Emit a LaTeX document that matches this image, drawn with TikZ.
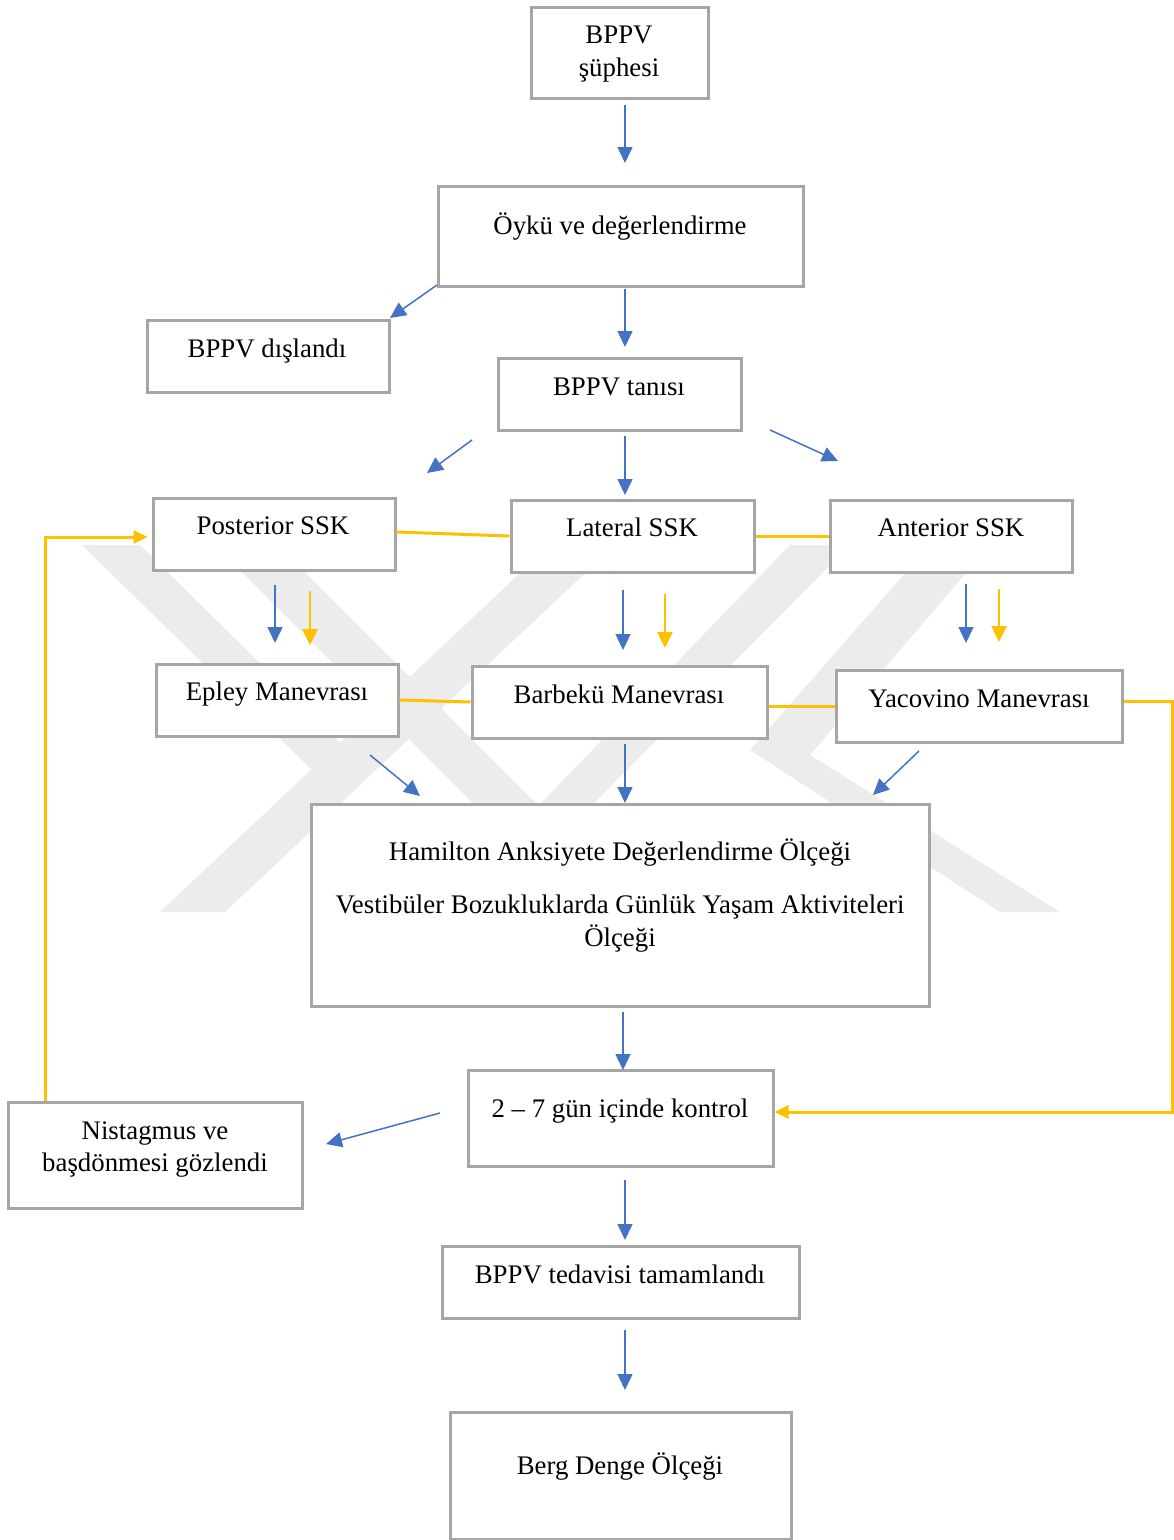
\documentclass[tikz,border=0pt]{standalone}
\usepackage{fontspec}
\setmainfont{Liberation Serif}
\usetikzlibrary{arrows.meta}
\definecolor{boxgray}{HTML}{A6A6A6}
\definecolor{ablue}{HTML}{4472C4}
\definecolor{ayellow}{HTML}{FFC000}
\definecolor{wm}{HTML}{ECECEC}
\begin{document}
\begin{tikzpicture}[x=1pt,y=-1pt,
  box/.style={draw=boxgray,line width=3pt,fill=white,inner sep=0pt},
  txt/.style={anchor=base,inner sep=0pt,font=\fontsize{26.8}{31}\selectfont},
  barr/.style={draw=ablue,line width=1.5pt,-{Triangle[length=16pt,width=15pt]}},
  yarr/.style={draw=ayellow,line width=2.5pt,-{Triangle[length=16pt,width=15pt]}},
  yline/.style={draw=ayellow,line width=3pt},
  wmark/.style={fill=wm,draw=none}]
\useasboundingbox (0,0) rectangle (1174,1540);
\fill[white] (0,0) rectangle (1174,1540);
% watermark
\begin{scope}
\fill[wmark] (82,545) -- (140,545) -- (370,772) -- (312,770) -- cycle;
\fill[wmark] (550,545) -- (615,545) -- (225,912) -- (160,912) -- cycle;
\fill[wmark] (215,545) -- (278,545) -- (633,900) -- (570,900) -- cycle;
\fill[wmark] (790,545) -- (850,545) -- (486,912) -- (436,912) -- cycle;
\fill[wmark] (930,545) -- (990,545) -- (810,755) -- (1060,912) -- (1000,912) -- (750,750) -- cycle;
\end{scope}
% boxes
\node[box,minimum width=177pt,minimum height=91pt] (A) at (619.5,52.5) {};
\node[box,minimum width=365pt,minimum height=100pt] (B) at (620.5,236) {};
\node[box,minimum width=242pt,minimum height=72pt] (C) at (268,356) {};
\node[box,minimum width=243pt,minimum height=72pt] (D) at (619.5,394) {};
\node[box,minimum width=242pt,minimum height=72pt] (E) at (274,534) {};
\node[box,minimum width=243pt,minimum height=72pt] (F) at (632.5,536) {};
\node[box,minimum width=242pt,minimum height=72pt] (G) at (951,536) {};
\node[box,minimum width=242pt,minimum height=72pt] (H) at (277,700) {};
\node[box,minimum width=295pt,minimum height=72pt] (I) at (619.5,702) {};
\node[box,minimum width=286pt,minimum height=72pt] (J) at (979,706) {};
\node[box,minimum width=618pt,minimum height=202pt] (M) at (620,905) {};
\node[box,minimum width=305pt,minimum height=96pt] (K) at (620.5,1118) {};
\node[box,minimum width=294pt,minimum height=106pt] (N) at (155,1155) {};
\node[box,minimum width=357pt,minimum height=72pt] (O) at (620.5,1282) {};
\node[box,minimum width=341pt,minimum height=127pt] (P) at (620.5,1475.5) {};
% texts
\node[txt] (tA1) at (619,43) {BPPV};
\node[txt] (tA2) at (619,76) {şüphesi};
\node[txt] (tB) at (620,234) {Öykü ve değerlendirme};
\node[txt] (tC) at (267,357) {BPPV dışlandı};
\node[txt] (tD) at (619,395) {BPPV tanısı};
\node[txt] (tE) at (273,534) {Posterior SSK};
\node[txt] (tF) at (632,536) {Lateral SSK};
\node[txt] (tG) at (951,536) {Anterior SSK};
\node[txt] (tH) at (277,700) {Epley Manevrası};
\node[txt] (tI) at (619,703) {Barbekü Manevrası};
\node[txt] (tJ) at (979,707) {Yacovino Manevrası};
\node[txt] (tM1) at (620,860) {Hamilton Anksiyete Değerlendirme Ölçeği};
\node[txt] (tM2) at (620,913) {Vestibüler Bozukluklarda Günlük Yaşam Aktiviteleri};
\node[txt] (tM3) at (620,946) {Ölçeği};
\node[txt] (tK) at (620,1117) {2 – 7 gün içinde kontrol};
\node[txt] (tN1) at (155,1139) {Nistagmus ve};
\node[txt] (tN2) at (155,1171) {başdönmesi gözlendi};
\node[txt] (tO) at (620,1283) {BPPV tedavisi tamamlandı};
\node[txt] (tP) at (620,1474) {Berg Denge Ölçeği};
% free ends of the floating arrows
\coordinate (ab1) at (625,105);  \coordinate (ab2) at (625,163);
\coordinate (bc1) at (437,285);  \coordinate (bc2) at (390,318);
\coordinate (bd1) at (625,289);  \coordinate (bd2) at (625,347);
\coordinate (de1) at (472,440);  \coordinate (de2) at (427,473);
\coordinate (df1) at (625,436);  \coordinate (df2) at (625,495);
\coordinate (dg1) at (770,430);  \coordinate (dg2) at (838,461);
\coordinate (eh1) at (275,585);  \coordinate (eh2) at (275,643);
\coordinate (eh3) at (310,591);  \coordinate (eh4) at (310,645);
\coordinate (fi1) at (623,590);  \coordinate (fi2) at (623,650);
\coordinate (fi3) at (665,594);  \coordinate (fi4) at (665,648);
\coordinate (gj1) at (966,584);  \coordinate (gj2) at (966,643);
\coordinate (gj3) at (999,589);  \coordinate (gj4) at (999,642);
\coordinate (hm1) at (370,755);  \coordinate (hm2) at (420,796);
\coordinate (im1) at (625,744);  \coordinate (im2) at (625,803);
\coordinate (jm1) at (919,751);  \coordinate (jm2) at (873,795);
\coordinate (mk1) at (623,1012); \coordinate (mk2) at (623,1070);
\coordinate (kn1) at (440,1113); \coordinate (kn2) at (326,1144);
\coordinate (ko1) at (625,1180); \coordinate (ko2) at (625,1240);
\coordinate (op1) at (625,1330); \coordinate (op2) at (625,1390);
\coordinate (jy) at (1172,701);  \coordinate (ky) at (1172,1112);
\coordinate (ny) at (45,537);
% blue arrows
\draw[barr] (ab1) -- (ab2);
\draw[barr] (bc1) -- (bc2);
\draw[barr] (bd1) -- (bd2);
\draw[barr] (de1) -- (de2);
\draw[barr] (df1) -- (df2);
\draw[barr] (dg1) -- (dg2);
\draw[barr] (eh1) -- (eh2);
\draw[barr] (fi1) -- (fi2);
\draw[barr] (gj1) -- (gj2);
\draw[barr] (hm1) -- (hm2);
\draw[barr] (im1) -- (im2);
\draw[barr] (jm1) -- (jm2);
\draw[barr] (mk1) -- (mk2);
\draw[barr] (kn1) -- (kn2);
\draw[barr] (ko1) -- (ko2);
\draw[barr] (op1) -- (op2);
% yellow arrows and lines
\draw[yarr] (eh3) -- (eh4);
\draw[yarr] (fi3) -- (fi4);
\draw[yarr] (gj3) -- (gj4);
\draw[yline] ([yshift=2pt]E.east) -- (F.west);
\draw[yline] (F.east) -- (G.west);
\draw[yline] (H.east) -- (I.west);
\draw[yline] (J.west -| I.east) -- (J.west);
\draw[yarr,line width=3pt,-{Triangle[length=14pt,width=13pt]}] (J.east |- jy) -- (jy) -- (ky) -- (K.east |- ky);
\draw[yarr,line width=3pt,shorten >=4pt,-{Triangle[length=14pt,width=13pt]}] (N.north -| ny) -- (ny) -- (E.west |- ny);
\end{tikzpicture}
\end{document}
